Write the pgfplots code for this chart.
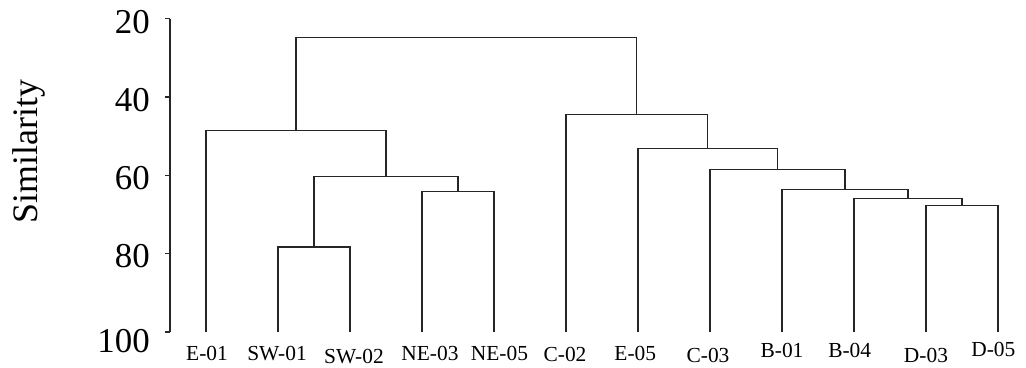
\documentclass[border=0pt]{standalone}
\usepackage{fontspec}
\setmainfont{Liberation Serif}
\usepackage{pgfplots}
\pgfplotsset{compat=1.18}
\newcommand{\lab}[3]{\raisebox{#2}{\makebox[0pt]{\hspace*{#1}#3}}}
\begin{document}
\begin{tikzpicture}
\path[use as bounding box] (-170bp,-36bp) rectangle (856bp,332bp);
\begin{axis}[
  at={(0,0)}, anchor=south west,
  scale only axis, width=849.6bp, height=313.3bp,
  xmin=-0.5, xmax=11.3, ymin=20, ymax=100, y dir=reverse,
  clip=false,
  axis line style={draw=none},
  ytick={20,40,60,80,100},
  yticklabels={20,40,60,80,\raisebox{-6pt}{100}},
  ytick pos=left, tick align=outside, major tick length=4.5bp,
  ytick style={black!85, line width=1.1pt},
  yticklabel style={font=\fontsize{35}{40}\selectfont, anchor=base east, inner sep=0pt, xshift=-15.5bp, yshift=-14.3bp},
  xtick={0,...,11},
  xticklabels={
    \lab{2pt}{0pt}{E-01},
    \lab{-2pt}{0pt}{SW-01},
    \lab{8pt}{-3pt}{SW-02},
    \lab{16pt}{0pt}{NE-03},
    \lab{11pt}{0pt}{NE-05},
    \lab{-2pt}{-0.7pt}{C-02},
    \lab{-5.4pt}{0.3pt}{E-05},
    \lab{-4pt}{-2.3pt}{C-03},
    \lab{0pt}{2.7pt}{B-01},
    \lab{-8.6pt}{2.7pt}{B-04},
    \lab{0pt}{-2.3pt}{D-03},
    \lab{-9.4pt}{4.3pt}{D-05}},
  xtick style={draw=none},
  xticklabel style={font=\fontsize{21.5}{24}\selectfont, anchor=base, inner sep=0pt, yshift=-24bp},
  ylabel={Similarity},
  ylabel style={font=\fontsize{36}{40}\selectfont, at={(axis description cs:-0.1666,0.576)}, anchor=center},
  dend/.style={black!85, line width=1.1pt, line join=miter, no marks, solid},
]
\addplot[dend] coordinates {(-0.5,20) (-0.5,100)};
\addplot[dend] coordinates {(1,100) (1,78.3) (2,78.3) (2,100)};
\addplot[dend] coordinates {(3,100) (3,64.2) (4,64.2) (4,100)};
\addplot[dend] coordinates {(1.5,78.3) (1.5,60.4) (3.5,60.4) (3.5,64.2)};
\addplot[dend] coordinates {(0,100) (0,48.65) (2.5,48.65) (2.5,60.4)};
\addplot[dend] coordinates {(10,100) (10,67.8) (11,67.8) (11,100)};
\addplot[dend] coordinates {(9,100) (9,65.8) (10.5,65.8) (10.5,67.8)};
\addplot[dend] coordinates {(8,100) (8,63.5) (9.75,63.5) (9.75,65.8)};
\addplot[dend] coordinates {(7,100) (7,58.6) (8.875,58.6) (8.875,63.5)};
\addplot[dend] coordinates {(6,100) (6,53.06) (7.9375,53.06) (7.9375,58.6)};
\addplot[dend] coordinates {(5,100) (5,44.57) (6.96875,44.57) (6.96875,53.06)};
\addplot[dend] coordinates {(1.25,48.65) (1.25,24.85) (5.984375,24.85) (5.984375,44.57)};
\end{axis}
\end{tikzpicture}
\end{document}
